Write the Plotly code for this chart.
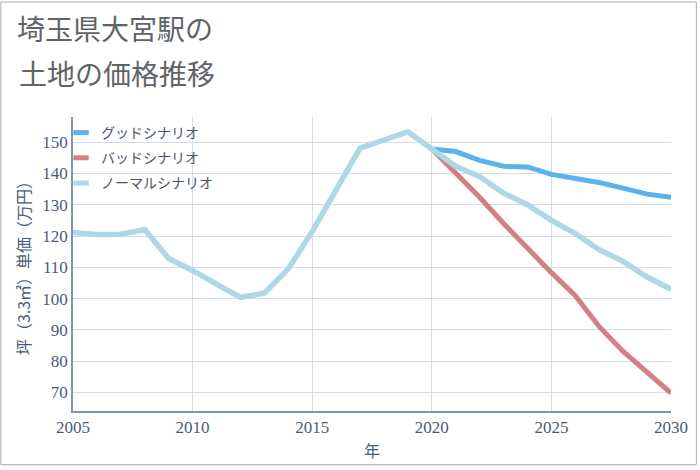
import plotly.graph_objects as go

years_hist = list(range(2005, 2021))
normal_hist = [121.1, 120.5, 120.6, 122.1, 112.8, 109.0, 104.6, 100.4, 101.7, 109.5,
               121.4, 134.5, 148.1, 150.7, 153.3, 147.8]
years_fc = list(range(2020, 2031))
good_fc = [147.8, 147.0, 144.2, 142.3, 142.1, 139.7, 138.4, 137.1, 135.3, 133.4, 132.4]
bad_fc = [147.8, 140.2, 132.4, 124.0, 116.1, 108.3, 100.9, 91.0, 83.1, 76.3, 69.8]
normal_fc = [147.8, 142.3, 139.0, 133.7, 130.0, 125.0, 120.8, 115.6, 111.9, 106.9, 103.0]

names = ["グッドシナリオ", "バッドシナリオ", "ノーマルシナリオ"]
colors = ["#5cb3ea", "#d47f87", "#add8e6"]

x_ticks = [2005, 2010, 2015, 2020, 2025, 2030]
y_ticks = [70, 80, 90, 100, 110, 120, 130, 140, 150]

fig = go.Figure()
fig.add_trace(go.Scatter(x=years_fc, y=good_fc, mode="lines", name=names[0],
                         line=dict(color=colors[0], width=5), showlegend=False))
fig.add_trace(go.Scatter(x=years_fc, y=bad_fc, mode="lines", name=names[1],
                         line=dict(color=colors[1], width=5), showlegend=False))
fig.add_trace(go.Scatter(x=years_hist + years_fc[1:], y=normal_hist + normal_fc[1:],
                         mode="lines", name=names[2],
                         line=dict(color=colors[2], width=5.5), showlegend=False))
for i, (n, c) in enumerate(zip(names, colors)):
    fig.add_trace(go.Scatter(x=[None], y=[None], mode="markers", name=n,
                             legendgroup="g%d" % i,
                             marker=dict(symbol="line-ew", size=11, color=c,
                                         line=dict(color=c, width=5))))

L, R, T, B = 73, 26, 117, 55
W, H = 700, 470
pw, ph = W - L - R, H - T - B

axis_col = "#4a5b78"
fig.update_layout(
    width=W, height=H,
    margin=dict(l=L, r=R, t=T, b=B),
    paper_bgcolor="white", plot_bgcolor="white",
    font=dict(family="Liberation Serif", color=axis_col, size=17),
    title=dict(text="埼玉県大宮駅の", x=17 / W, xanchor="left", xref="container",
               y=1 - 30 / H, yanchor="middle", yref="container",
               font=dict(family="Noto Sans CJK JP", size=28, color="#606468")),
    annotations=[dict(text="土地の価格推移", xref="paper", yref="paper",
                      x=(17 - L) / pw, xanchor="left",
                      y=(H - B - 72.5) / ph, yanchor="middle", showarrow=False,
                      font=dict(family="Noto Sans CJK JP", size=28, color="#606468"))],
    xaxis=dict(range=[2005, 2030], tickvals=x_ticks, showgrid=True,
               gridcolor="#d3deea", gridwidth=1, showline=True, linecolor="#8095ad",
               linewidth=1.5, zeroline=False, ticks="", ticklen=0,
               title=dict(text="年", font=dict(family="Noto Sans CJK JP", size=16,
                                               color=axis_col), standoff=10)),
    yaxis=dict(range=[64.06, 158.05], tickvals=y_ticks, showgrid=True,
               gridcolor="#d3deea", gridwidth=1, showline=True, linecolor="#8095ad",
               linewidth=1.5, zeroline=False, ticks="",
               title=dict(text="坪（3.3㎡）単価（万円）",
                          font=dict(family="Noto Sans CJK JP", size=16, color=axis_col),
                          standoff=8)),
    legend=dict(x=(61 - L) / pw, xanchor="left", y=1 - 0 / ph, yanchor="top",
                bgcolor="rgba(0,0,0,0)", tracegroupgap=4,
                font=dict(family="Noto Sans CJK JP", size=14, color="#4a5568")),
    shapes=[dict(type="rect", xref="paper", yref="paper",
                 x0=(-L + 0.5) / pw, x1=(pw + R - 0.5) / pw,
                 y0=(-B + 0.5) / ph, y1=(ph + T - 0.5) / ph,
                 line=dict(color="#aaaaaa", width=1), fillcolor="rgba(0,0,0,0)",
                 layer="below")],
)

fig.write_html("out.html",
               config={"displayModeBar": False},
               post_script="document.documentElement.style.margin='0';"
                           "document.documentElement.style.padding='0';"
                           "document.documentElement.style.overflow='hidden';"
                           "document.body.style.margin='0';"
                           "document.body.style.padding='0';"
                           "document.body.style.overflow='hidden';"
                           "document.body.style.width='700px';"
                           "document.body.style.height='470px';")
